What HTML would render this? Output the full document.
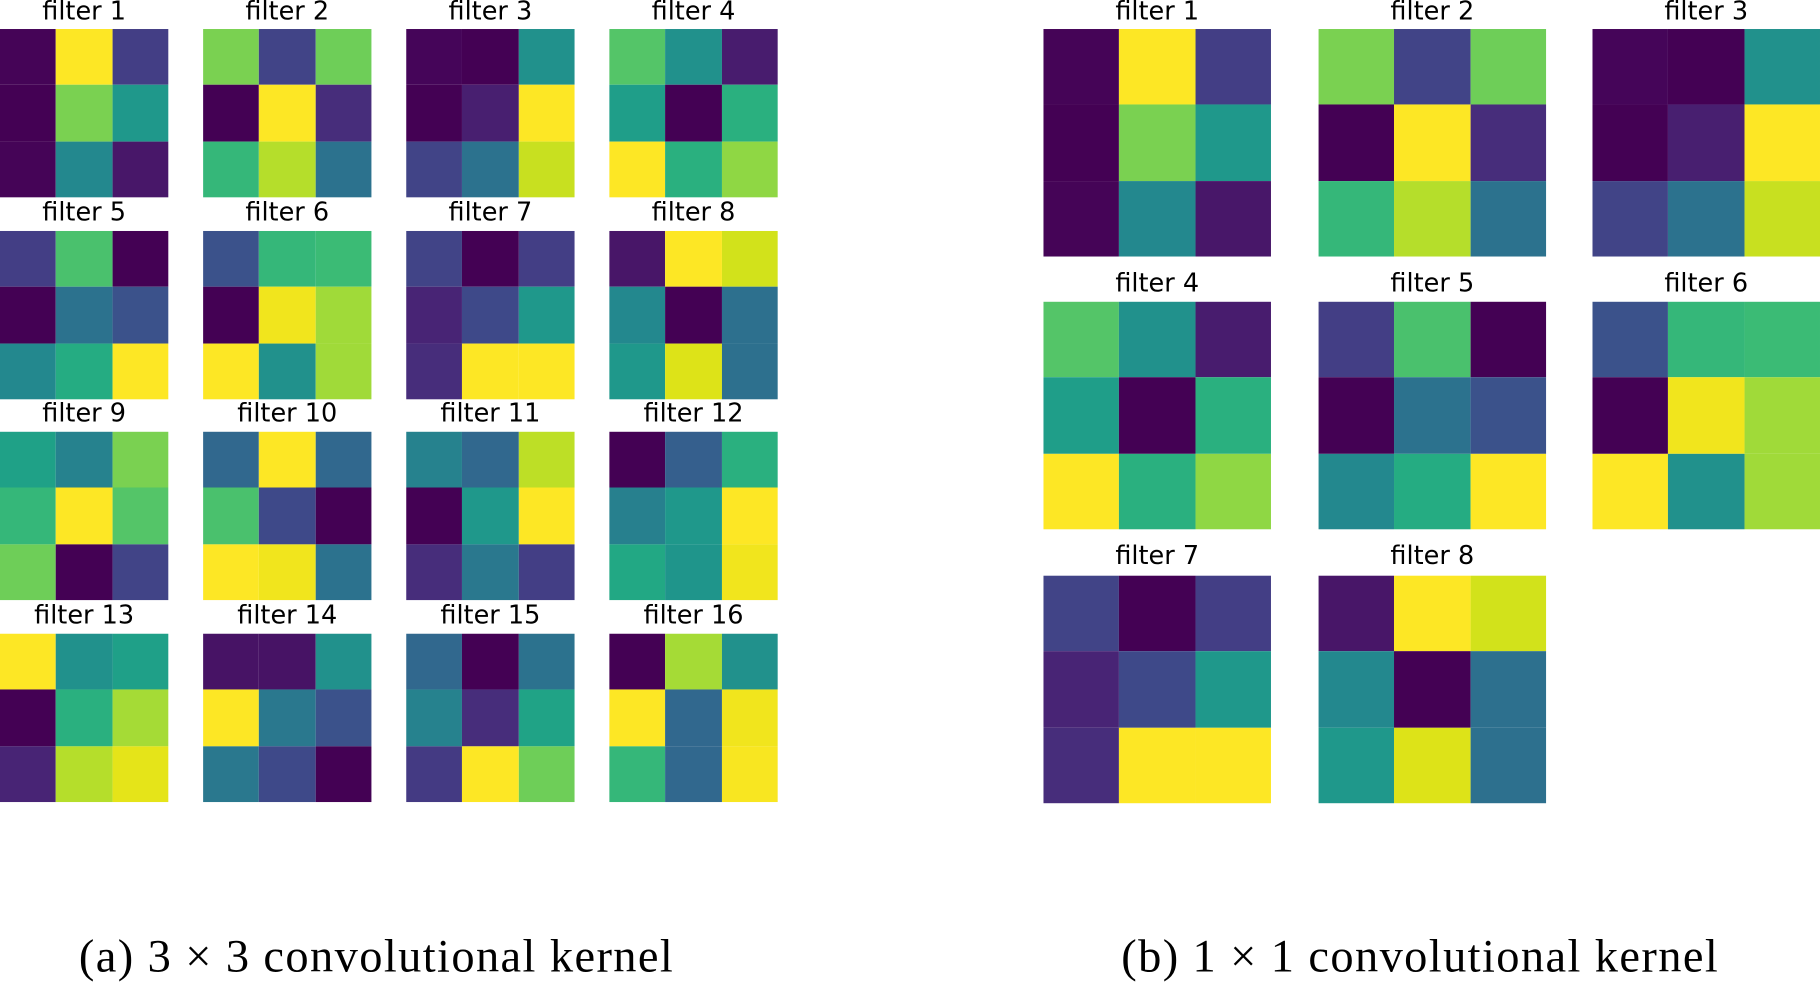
<!DOCTYPE html>
<html><head><meta charset="utf-8">
<style>
html,body{margin:0;padding:0;background:#fff;overflow:hidden;width:1820px;height:982px}
#w{position:absolute;left:0;top:0;width:1568px;height:846px;transform:scale(1.16071);transform-origin:0 0}
.t{position:absolute;display:grid;grid-template-columns:repeat(3,1fr);grid-template-rows:repeat(3,1fr)}
.l{position:absolute;font-family:"DejaVu Sans","Liberation Sans",sans-serif;font-size:22px;text-align:center;line-height:22px;color:#000}
.c{position:absolute;font-family:"Liberation Serif",serif;font-size:40px;letter-spacing:1.2px;top:800px;white-space:nowrap}
</style></head><body>
<div id="w">
<div class="l" style="left:0;top:0;width:145px">filter 1</div>
<div class="l" style="left:175px;top:0;width:145px">filter 2</div>
<div class="l" style="left:350px;top:0;width:145px">filter 3</div>
<div class="l" style="left:525px;top:0;width:145px">filter 4</div>
<div class="l" style="left:0;top:173px;width:145px">filter 5</div>
<div class="l" style="left:175px;top:173px;width:145px">filter 6</div>
<div class="l" style="left:350px;top:173px;width:145px">filter 7</div>
<div class="l" style="left:525px;top:173px;width:145px">filter 8</div>
<div class="l" style="left:0;top:346px;width:145px">filter 9</div>
<div class="l" style="left:175px;top:346px;width:145px">filter 10</div>
<div class="l" style="left:350px;top:346px;width:145px">filter 11</div>
<div class="l" style="left:525px;top:346px;width:145px">filter 12</div>
<div class="l" style="left:0;top:520px;width:145px">filter 13</div>
<div class="l" style="left:175px;top:520px;width:145px">filter 14</div>
<div class="l" style="left:350px;top:520px;width:145px">filter 15</div>
<div class="l" style="left:525px;top:520px;width:145px">filter 16</div>
<div class="l" style="left:899px;top:0;width:196px">filter 1</div>
<div class="l" style="left:1136px;top:0;width:196px">filter 2</div>
<div class="l" style="left:1372px;top:0;width:196px">filter 3</div>
<div class="l" style="left:899px;top:234px;width:196px">filter 4</div>
<div class="l" style="left:1136px;top:234px;width:196px">filter 5</div>
<div class="l" style="left:1372px;top:234px;width:196px">filter 6</div>
<div class="l" style="left:899px;top:469px;width:196px">filter 7</div>
<div class="l" style="left:1136px;top:469px;width:196px">filter 8</div>
<div class="c" style="left:68px">(a) 3 × 3 convolutional kernel</div>
<div class="c" style="left:966px">(b) 1 × 1 convolutional kernel</div>
</div>
<script>
var F=[
["#450457","#fde725","#433e85","#440154","#7ad151","#1f988b","#450457","#23888e","#481769"],
["#7ad151","#414487","#6ece58","#440154","#fde725","#472d7b","#35b779","#b5de2b","#2c728e"],
["#450559","#440154","#21918c","#440154","#481f70","#fde725","#414487","#2c728e","#c8e020"],
["#54c568","#21918c","#481c6e","#1f9e89","#440154","#2ab07f","#fde725","#2ab07f","#8fd744"],
["#433e85","#4ac16d","#440154","#440154","#2c728e","#3b528b","#23888e","#25ac82","#fde725"],
["#3b528b","#35b779","#3bbb75","#440154","#f1e51d","#a0da39","#fde725","#21918c","#a0da39"],
["#414487","#440154","#433e85","#482475","#3e4989","#1f988b","#472d7b","#fde725","#fde725"],
["#481668","#fde725","#d2e21b","#23888e","#440154","#2d708e","#1f988b","#dde318","#2d708e"],
["#1fa187","#26828e","#7ad151","#35b779","#fde725","#54c568","#6ece58","#440154","#414487"],
["#31688e","#fde725","#31688e","#4ac16d","#3e4989","#440154","#fde725","#f1e51d","#2c728e"],
["#26828e","#31688e","#bddf26","#440154","#1f988b","#fde725","#472d7b","#2a788e","#433e85"],
["#440154","#355f8d","#2ab07f","#27808e","#1f988b","#fde725","#22a884","#1f958b","#f1e51d"],
["#fde725","#21918c","#1fa088","#440154","#2ab07f","#a5db36","#482475","#b5de2b","#e5e419"],
["#471365","#471365","#21918c","#fde725","#2a788e","#3b528b","#2a788e","#3e4989","#440154"],
["#31688e","#440154","#2c728e","#26828e","#472d7b","#20a386","#443a83","#fde725","#6ece58"],
["#440154","#a5db36","#21918c","#fde725","#31688e","#f1e51d","#35b779","#31688e","#f8e621"]];
var w=document.getElementById('w');
function tile(x,y,s,c){var d=document.createElement('div');d.className='t';
d.style.cssText='left:'+x+'px;top:'+y+'px;width:'+s+'px;height:'+s+'px';
c.forEach(function(k){var e=document.createElement('div');e.style.background=k;d.appendChild(e)});w.appendChild(d);}
var LX=[0,175,350,525],LY=[25,199,372,546];
for(var i=0;i<16;i++)tile(LX[i%4],LY[Math.floor(i/4)],145,F[i]);
var RX=[899,1136,1372],RY=[25,260,496];
for(var i=0;i<8;i++)tile(RX[i%3],RY[Math.floor(i/3)],196,F[i]);
</script>
</body></html>
